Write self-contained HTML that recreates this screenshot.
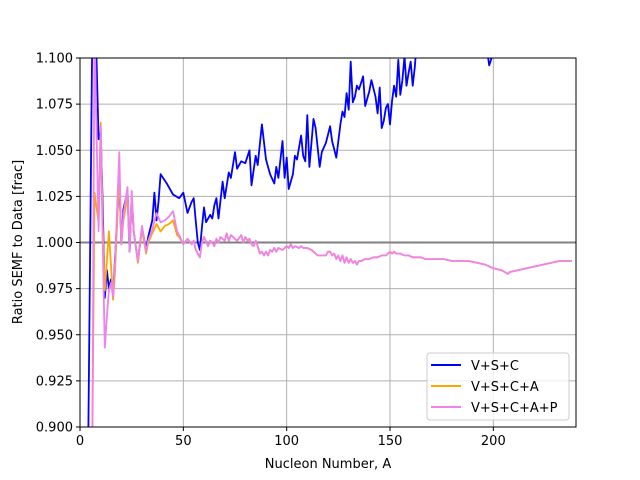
<!DOCTYPE html>
<html><head><meta charset="utf-8"><style>
html,body{margin:0;padding:0;width:640px;height:480px;overflow:hidden;background:#fff}
svg{font-family:"DejaVu Sans","Liberation Sans",sans-serif;display:block}
</style></head><body>
<svg id="chart" width="640" height="480" viewBox="0 0 640 480">
<defs><clipPath id="clip"><rect x="80" y="58" width="496" height="369"/></clipPath></defs>
<rect x="0" y="0" width="640" height="480" fill="#fff"/>
<g id="grid"></g>
<g id="series" clip-path="url(#clip)"></g>
<rect x="80" y="58" width="496" height="369" fill="none" stroke="#000" stroke-width="1"/>
<g id="ticks"></g>
<text x="328" y="468" font-size="13" text-anchor="middle">Nucleon Number, A</text>
<text x="22" y="242" font-size="13" text-anchor="middle" transform="rotate(-90 22 242)">Ratio SEMF to Data [frac]</text>
<g>
<rect x="427" y="353" width="142" height="67" rx="3" fill="#fff" fill-opacity="0.8" stroke="#ccc"/>
<line x1="431" y1="365" x2="461" y2="365" stroke="#0000ff" stroke-width="2"/>
<text x="471" y="370" font-size="13">V+S+C</text>
<line x1="431" y1="386" x2="461" y2="386" stroke="#ffa500" stroke-width="2"/>
<text x="471" y="391" font-size="13">V+S+C+A</text>
<line x1="431" y1="407" x2="461" y2="407" stroke="#ee82ee" stroke-width="2"/>
<text x="471" y="412" font-size="13">V+S+C+A+P</text>
</g>
</svg>
<script>
const xTicks=[0,50,100,150,200];
const yTicks=[0.900,0.925,0.950,0.975,1.000,1.025,1.050,1.075,1.100];
const blueA=[4,6,7,8,9,10,11,12,13,14,15,16,17,19,20,21,23,24,25,26,28,30,32,33,35,36,37,38,39,42,45,48,50,52,54,55,56,57,58,59,60,61,63,64,65,66,67,69,70,72,73,75,76,78,80,82,83,85,86,88,90,92,94,95,96,98,99,100,101,103,104,105,107,108,109,110,111,113,114,116,117,119,121,122,124,126,127,128,129,130,131,132,133,134,135,137,138,140,141,143,144,145,146,147,148,149,150,151,152,153,154,155,156,157,158,159,160,161,162,163,165,168,170,175,180,185,190,195,198,200];
const blueR=[0.895,1.12,1.12,1.10,1.056,1.06,1.02,0.97,0.985,0.975,0.98,0.972,0.992,1.035,1.0,1.018,1.028,0.995,1.025,1.006,0.99,1.008,0.996,1.003,1.012,1.027,1.012,1.022,1.037,1.032,1.026,1.024,1.027,1.016,1.022,1.024,1.012,1.0,0.996,1.008,1.019,1.011,1.015,1.013,1.02,1.024,1.013,1.033,1.024,1.038,1.035,1.049,1.04,1.044,1.043,1.05,1.031,1.047,1.042,1.064,1.045,1.037,1.032,1.041,1.035,1.055,1.035,1.046,1.029,1.037,1.047,1.045,1.058,1.047,1.044,1.069,1.041,1.067,1.062,1.041,1.049,1.054,1.063,1.055,1.046,1.064,1.071,1.068,1.081,1.072,1.098,1.076,1.079,1.085,1.083,1.09,1.074,1.082,1.088,1.079,1.07,1.084,1.062,1.066,1.073,1.075,1.064,1.077,1.085,1.079,1.099,1.08,1.088,1.101,1.085,1.092,1.098,1.085,1.095,1.11,1.12,1.11,1.12,1.12,1.12,1.12,1.12,1.12,1.096,1.103];
const orangeA=[4,6,7,9,10,11,12,13,14,16,17,19,20,21,23,24,25,26,28,30,32,33,35,37,39,41,43,45,47,48];
const orangeR=[0.895,0.895,1.027,1.011,1.065,1.01,0.974,0.99,1.006,0.969,0.985,1.038,0.999,1.012,1.025,0.996,1.025,1.006,0.989,1.007,0.994,1.0,1.005,1.01,1.006,1.009,1.01,1.012,1.004,1.003];
const pinkA=[4,6,7,8,9,10,11,12,13,14,15,16,17,19,20,21,23,24,25,26,28,30,32,33,35,37,39,41,43,45,47,48];
const pinkR=[0.895,0.895,1.12,1.06,1.006,1.063,1.0,0.943,0.96,0.974,0.978,0.9705,0.99,1.049,0.999,1.015,1.03,0.995,1.028,1.006,0.99,1.009,0.995,1.001,1.007,1.016,1.011,1.012,1.014,1.017,1.006,1.004];
const tailA=[50,52,54,55,56,58,59,60,62,63,64,65,66,67,68,70,71,72,73,75,76,78,79,80,81,82,83,84,85,86,87,88,89,90,91,92,93,94,95,96,98,100,101,102,103,104,106,107,108,110,112,114,115,117,119,120,121,122,123,124,125,126,127,128,129,130,131,132,133,134,135,136,138,140,142,144,146,148,150,151,152,153,155,157,159,161,163,165,167,170,173,176,180,184,188,192,196,200,204,207,208,220,232,238];
const tailR=[0.999,1.002,0.999,1.001,0.996,0.992,1.0,1.003,0.998,1.001,1.0,0.998,1.002,1.0,1.003,1.001,1.005,1.001,1.004,1.002,1.001,1.004,1.0,1.003,1.001,1.002,0.999,0.998,1.001,0.998,0.994,0.995,0.993,0.995,0.993,0.996,0.995,0.997,0.995,0.997,0.996,0.998,0.997,0.999,0.997,0.998,0.997,0.998,0.997,0.997,0.996,0.994,0.993,0.993,0.993,0.995,0.995,0.993,0.994,0.991,0.993,0.99,0.993,0.989,0.992,0.989,0.991,0.989,0.99,0.988,0.99,0.99,0.991,0.991,0.992,0.992,0.993,0.993,0.995,0.994,0.995,0.994,0.994,0.993,0.993,0.992,0.992,0.992,0.991,0.991,0.991,0.991,0.99,0.99,0.99,0.989,0.988,0.986,0.985,0.983,0.984,0.987,0.99,0.99];

const X0=80,X1=576,Y0=427,Y1=58,XMIN=0,XMAX=240,YMIN=0.9,YMAX=1.1;
function sx(v){return X0+(v-XMIN)/(XMAX-XMIN)*(X1-X0);}
function sy(v){return Y0-(v-YMIN)/(YMAX-YMIN)*(Y0-Y1);}
const NS="http://www.w3.org/2000/svg";
const grid=document.getElementById('grid'),ticks=document.getElementById('ticks'),ser=document.getElementById('series');
function mk(t,a,p){const e=document.createElementNS(NS,t);for(const k in a)e.setAttribute(k,a[k]);p.appendChild(e);return e;}
xTicks.forEach(v=>{
  const g=mk('line',{x1:sx(v),x2:sx(v),y1:Y1,y2:Y0,stroke:'#b0b0b0','stroke-width':1},grid);
  
  
  const t=mk('line',{x1:sx(v),x2:sx(v),y1:Y0,y2:Y0+4,stroke:'#000'},ticks);
  
  
  const l=mk('text',{x:sx(v),y:Y0+18,'font-size':13,'text-anchor':'middle'},ticks);
  l.textContent=v;
  
  
});
yTicks.forEach(v=>{
  const g=mk('line',{x1:X0,x2:X1,y1:sy(v),y2:sy(v),stroke:'#b0b0b0','stroke-width':1},grid);
  
  
  const t=mk('line',{x1:X0-4,x2:X0,y1:sy(v),y2:sy(v),stroke:'#000'},ticks);
  
  
  const l=mk('text',{x:X0-7,y:sy(v)+4.5,'font-size':13,'text-anchor':'end'},ticks);
  l.textContent=v.toFixed(3);
  
  
});
const ref=mk('line',{x1:X0,x2:X1,y1:sy(1),y2:sy(1),stroke:'#808080','stroke-width':2},ser);


function line(A,R,color,name){
  const d=A.map((a,i)=>(i?'L':'M')+sx(a).toFixed(1)+','+sy(R[i]).toFixed(1)).join('');
  const p=mk('path',{d:d,fill:'none',stroke:color,'stroke-width':1.8,'stroke-linejoin':'round'},ser);
  
  
}
line(blueA,blueR,'#0000ff','series-vsc');
line(orangeA.concat(tailA),orangeR.concat(tailR),'#ffa500','series-vsca');
line(pinkA.concat(tailA),pinkR.concat(tailR),'#ee82ee','series-vscap');
</script>
</body></html>
